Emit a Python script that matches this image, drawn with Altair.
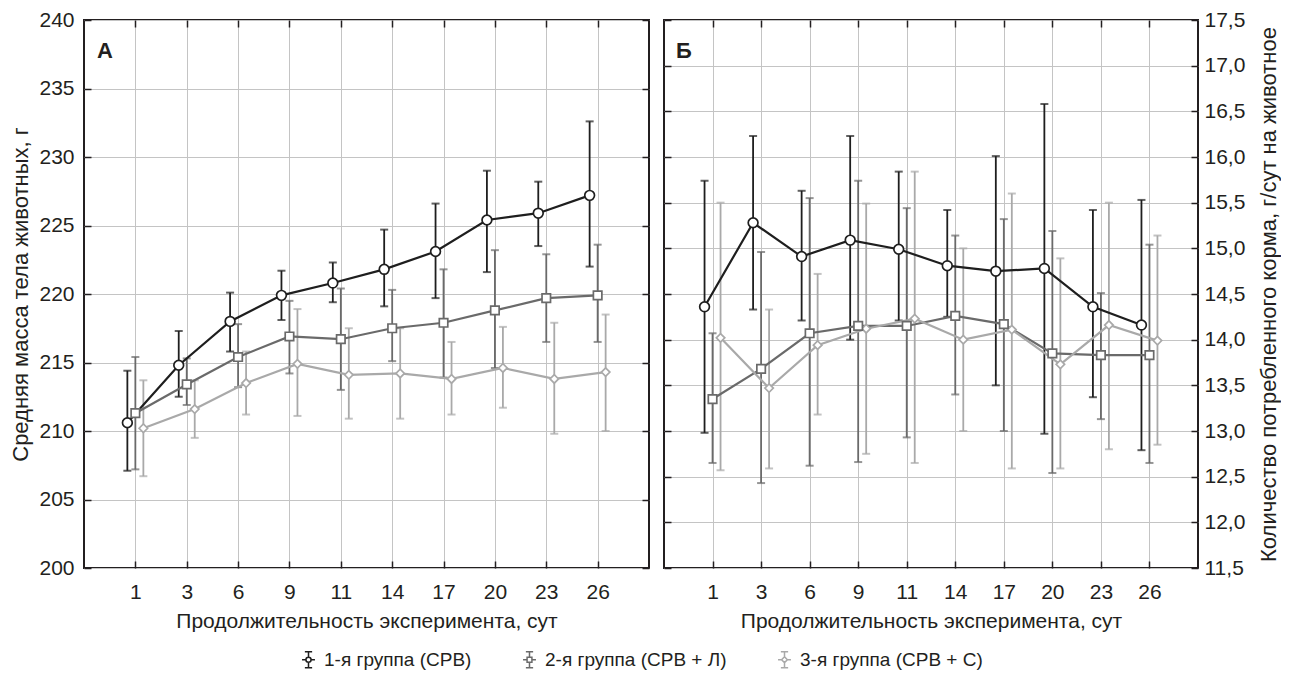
import altair as alt
import pandas as pd

# ---------------- data ----------------
days = [1, 3, 6, 9, 11, 14, 17, 20, 23, 26]
groups = ["1-я группа (СРВ)", "2-я группа (СРВ + Л)", "3-я группа (СРВ + С)"]

# Panel A: body mass, g
mass_g1 = [210.6, 214.8, 218.0, 219.9, 220.8, 221.8, 223.1, 225.4, 225.9, 227.2]
mass_g1_lo = [207.1, 212.5, 215.8, 218.1, 219.4, 219.1, 219.7, 221.6, 223.5, 222.0]
mass_g1_hi = [214.4, 217.3, 220.1, 221.7, 222.3, 224.7, 226.6, 229.0, 228.2, 232.6]

mass_g2 = [211.3, 213.4, 215.4, 216.9, 216.7, 217.5, 217.9, 218.8, 219.7, 219.9]
mass_g2_lo = [207.2, 211.9, 213.2, 214.2, 213.0, 215.1, 213.9, 214.6, 216.5, 216.5]
mass_g2_hi = [215.4, 215.3, 217.8, 219.5, 220.4, 220.3, 221.8, 223.2, 222.9, 223.6]

mass_g3 = [210.2, 211.6, 213.5, 214.9, 214.1, 214.2, 213.8, 214.6, 213.8, 214.3]
mass_g3_lo = [206.7, 209.5, 211.2, 211.1, 210.9, 210.9, 211.2, 211.7, 209.8, 210.0]
mass_g3_hi = [213.7, 213.7, 215.8, 218.9, 217.5, 217.5, 216.5, 217.6, 217.9, 218.5]

# Panel B: feed intake, g/day per animal
feed_g1 = [14.36, 15.28, 14.91, 15.09, 14.99, 14.81, 14.75, 14.78, 14.36, 14.16]
feed_g1_lo = [12.98, 14.33, 14.21, 14.00, 14.21, 14.25, 13.50, 12.97, 13.37, 12.79]
feed_g1_hi = [15.74, 16.23, 15.63, 16.23, 15.84, 15.42, 16.01, 16.58, 15.42, 15.53]

feed_g2 = [13.35, 13.68, 14.07, 14.15, 14.15, 14.26, 14.17, 13.85, 13.83, 13.83]
feed_g2_lo = [12.65, 12.43, 12.62, 12.66, 12.93, 13.40, 13.00, 12.54, 13.13, 12.65]
feed_g2_hi = [14.07, 14.96, 15.55, 15.74, 15.44, 15.14, 15.32, 15.19, 14.51, 15.04]

feed_g3 = [14.02, 13.47, 13.94, 14.12, 14.23, 14.00, 14.11, 13.73, 14.16, 13.99]
feed_g3_lo = [12.57, 12.59, 13.18, 12.75, 12.65, 13.00, 12.59, 12.59, 12.80, 12.85]
feed_g3_hi = [15.50, 14.33, 14.72, 15.49, 15.84, 15.00, 15.60, 14.89, 15.50, 15.14]

mass_ticks = [200, 205, 210, 215, 220, 225, 230, 235, 240]
feed_ticks = [11.5, 12.0, 12.5, 13.0, 13.5, 14.0, 14.5, 15.0, 15.5, 16.0, 16.5, 17.0, 17.5]

# ---------------- styles ----------------
FONT = "'Liberation Sans Narrow', 'Liberation Sans', sans-serif"
TXT = "#231f20"
GRID = "#c4c4c4"
colors = ["#1e1e1e", "#6a6a6a", "#a9a9a9"]
shapes = ["circle", "square", "diamond"]
sizes = [95, 72, 72]
offsets = [-8, 0, 8]
legend_paths = [
    "M-0.8,0H-0.32M0.32,0H0.8M0,-1V-0.32M0,0.32V1M-0.45,-1H0.45M-0.45,1H0.45"
    "M-0.32,0A0.32,0.32,0,1,1,0.32,0A0.32,0.32,0,1,1,-0.32,0Z",
    "M-0.8,0H-0.3M0.3,0H0.8M0,-1V-0.3M0,0.3V1M-0.45,-1H0.45M-0.45,1H0.45"
    "M-0.3,-0.3H0.3V0.3H-0.3Z",
    "M-0.8,0H-0.36M0.36,0H0.8M0,-1V-0.36M0,0.36V1M-0.45,-1H0.45M-0.45,1H0.45"
    "M0,-0.36L0.36,0L0,0.36L-0.36,0Z",
]
TICKS = dict(offset=-7, tickSize=7, tickColor=TXT, tickWidth=1.5, domain=False)


def long_df(means, los, his):
    rows = []
    for g, m, l, h in zip(groups, means, los, his):
        for d, mv, lv, hv in zip(days, m, l, h):
            rows.append({"day": d, "group": g, "mean": mv, "lo": lv, "hi": hv})
    return pd.DataFrame(rows)


def build_panel(df, ydom, yticks, ytitle, side, letter, width, label_expr=None, with_legend=False):
    xscale = alt.Scale(type="point", padding=1, domain=days)
    yscale = alt.Scale(domain=ydom, nice=False, zero=False)
    other = "right" if side == "left" else "left"

    x_axis = alt.Axis(orient="bottom", title="Продолжительность эксперимента, сут",
                      labelAngle=0, labelPadding=13, titlePadding=8, titleFontSize=21,
                      grid=True, gridColor=GRID, gridWidth=1, **TICKS)
    y_kwargs = dict(orient=side, title=ytitle, values=yticks,
                    labelPadding=10 if side == "left" else 6,
                    titlePadding=6 if side == "left" else 14, titleFontSize=22,
                    grid=True, gridColor=GRID, gridWidth=1, titleAngle=270, **TICKS)
    if side == "right":
        y_kwargs["titleBaseline"] = "top"
    if label_expr:
        y_kwargs["labelExpr"] = label_expr
    y_axis = alt.Axis(**y_kwargs)

    x_top = alt.Axis(orient="top", title=None, labels=False, grid=False, **TICKS)
    y_oth = alt.Axis(orient=other, title=None, labels=False, grid=False, values=yticks, **TICKS)

    def X(ax):
        return alt.X("day:O", scale=xscale, axis=ax)

    def Y(field, ax):
        return alt.Y(f"{field}:Q", scale=yscale, axis=ax)

    base = alt.Chart(df)
    bars, lines, pts = [], [], []
    for i, g in enumerate(groups):
        sub = base.transform_filter(alt.datum.group == g)
        bars.append(sub.mark_rule(color=colors[i], strokeWidth=1.8, xOffset=offsets[i]).encode(
            x=X(x_axis), y=Y("lo", y_axis), y2=alt.Y2("hi:Q")))
        for f in ("lo", "hi"):
            bars.append(sub.mark_tick(color=colors[i], thickness=2, size=8, xOffset=offsets[i]).encode(
                x=X(x_axis), y=Y(f, y_axis)))
        lines.append(sub.mark_line(color=colors[i], strokeWidth=2.2, xOffset=offsets[i]).encode(
            x=X(x_axis), y=Y("mean", y_axis)))
        pts.append(sub.mark_point(shape=shapes[i], size=sizes[i], filled=True, fill="white",
                                  stroke=colors[i], strokeWidth=1.7, opacity=1,
                                  xOffset=offsets[i]).encode(
            x=X(x_axis if i > 0 else x_top), y=Y("mean", y_axis if i > 0 else y_oth)))

    letter_layer = alt.Chart(pd.DataFrame({"t": [letter]})).mark_text(
        align="left", baseline="top", fontSize=22, fontWeight="bold", color=TXT,
        font=FONT).encode(
        text="t:N", x=alt.value(13 if side == "left" else 12), y=alt.value(21))

    inner_layers = bars + lines + [pts[2], pts[1], letter_layer]
    if with_legend:
        leg = alt.Legend(title=None, orient="none", legendX=215, legendY=630, direction="horizontal",
                         columns=3, columnPadding=48, labelFontSize=19, labelColor=TXT,
                         labelLimit=400, symbolSize=260, symbolStrokeWidth=1.5,
                         symbolFillColor="white", labelOffset=6, labelFont=FONT)
        legend_layer = base.transform_filter("false").mark_point(
            filled=False, fill="white", size=260, strokeWidth=1.5, opacity=1).encode(
            x=X(x_axis), y=Y("mean", y_axis),
            color=alt.Color("group:N", scale=alt.Scale(domain=groups, range=colors), legend=leg),
            shape=alt.Shape("group:N", scale=alt.Scale(domain=groups, range=legend_paths), legend=leg))
        inner_layers.append(legend_layer)
    inner = alt.layer(*inner_layers)
    return alt.layer(inner, pts[0]).resolve_axis(x="independent", y="independent").properties(
        width=width, height=548)


mass_df = long_df([mass_g1, mass_g2, mass_g3], [mass_g1_lo, mass_g2_lo, mass_g3_lo],
                  [mass_g1_hi, mass_g2_hi, mass_g3_hi])
feed_df = long_df([feed_g1, feed_g2, feed_g3], [feed_g1_lo, feed_g2_lo, feed_g3_lo],
                  [feed_g1_hi, feed_g2_hi, feed_g3_hi])

left = build_panel(mass_df, [200, 240], mass_ticks, "Средняя масса тела животных, г",
                   "left", "А", 565, with_legend=True)
right = build_panel(feed_df, [11.5, 17.5], feed_ticks,
                    "Количество потребленного корма, г/сут на животное",
                    "right", "Б", 534,
                    label_expr="replace(format(datum.value, '.1f'), '.', ',')")

chart = alt.hconcat(left, right, spacing=11).configure(
    font=FONT, padding={"left": 0, "top": 0, "right": 0, "bottom": 0}
).configure_view(stroke=TXT, strokeWidth=2).configure_axis(
    labelFontSize=21, labelColor=TXT, titleColor=TXT,
    titleFontWeight="normal", labelFont=FONT, titleFont=FONT)

chart.save("out.html", embed_options={"renderer": "svg", "actions": False})
